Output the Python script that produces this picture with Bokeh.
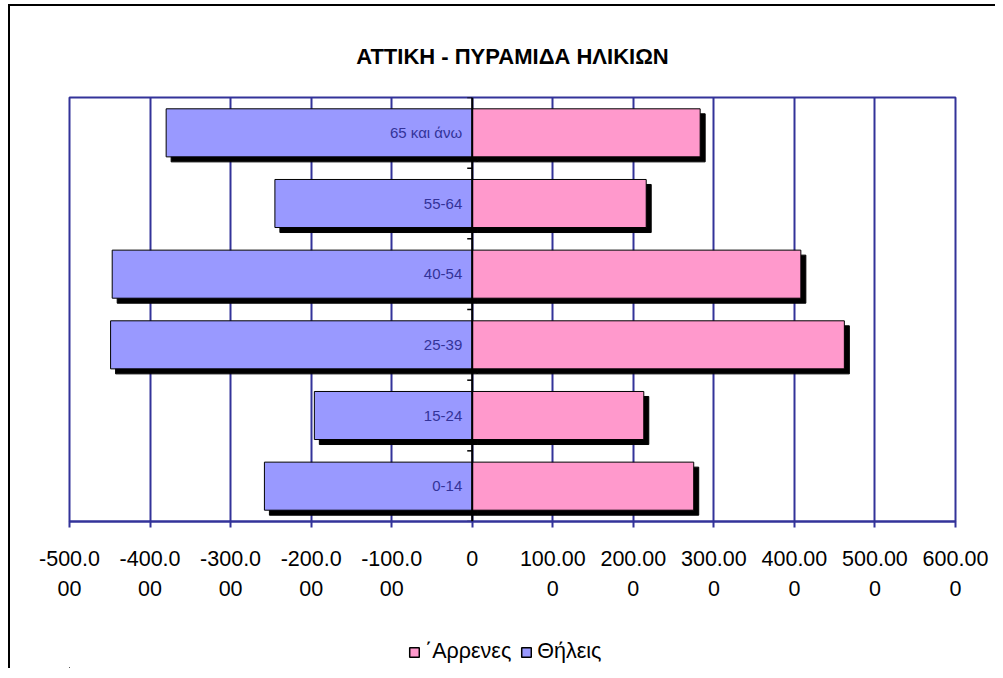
from bokeh.plotting import figure
from bokeh.layouts import column
from bokeh.models import Range1d, FixedTicker, Legend, LegendItem, ColumnDataSource, Span
from bokeh.core.properties import value
from bokeh.embed import file_html
from bokeh.resources import INLINE

# ---- data ----
categories = ["0-14", "15-24", "25-39", "40-54", "55-64", "65 και άνω"]
male = [275, 213, 462, 408, 216, 283]          # Άρρενες
female = [-258, -196, -449, -447, -245, -380]  # Θήλεις
tick_values = [-500, -400, -300, -200, -100, 0, 100, 200, 300, 400, 500, 600]
tick_labels = ["-500.0\n00", "-400.0\n00", "-300.0\n00", "-200.0\n00", "-100.0\n00", "0",
               "100.00\n0", "200.00\n0", "300.00\n0", "400.00\n0", "500.00\n0", "600.00\n0"]
title_text = "ΑΤΤΙΚΗ - ΠΥΡΑΜΙΔΑ ΗΛΙΚΙΩΝ"
male_label = "\u0384Αρρενες"
female_label = "Θήλεις"

# ---- layout ----
W, H1, H2 = 995, 634, 34
BL, BR, BT, BB = 69, 40, 97, 113
xmin, xmax = -500, 600
ymin, ymax = 0, len(categories)
frame_w = W - BL - BR
frame_h = H1 - BT - BB
px_x = frame_w / (xmax - xmin)
px_y = frame_h / (ymax - ymin)
shadow_px = 5
dx = shadow_px / px_x
dy = shadow_px / px_y
tick_len = 5 / px_x

NAVY = "#333399"
FONT = "Liberation Sans"
BLUE = "#9999FF"
PINK = "#FF99CC"

n = len(categories)
ypos = [i + 0.5 for i in range(n)]
bar_h = 0.68
bounds = list(range(n + 1))

src = ColumnDataSource(dict(
    y=ypos, cat=categories, male=male, female=female,
    zero=[0] * n,
    ys=[v - dy for v in ypos],
    m_l=[dx] * n, m_r=[m + dx for m in male],
    f_l=[f + dx for f in female], f_r=[dx] * n,
))
tsrc = ColumnDataSource(dict(y=bounds, x0=[0] * len(bounds), x1=[-tick_len] * len(bounds)))

p = figure(width=W, height=H1, output_backend="svg", toolbar_location=None,
           x_range=Range1d(xmin, xmax), y_range=Range1d(ymin, ymax),
           min_border_left=BL, min_border_right=BR, min_border_top=BT, min_border_bottom=BB,
           title=title_text)
p.border_fill_color = None
p.styles = {"background": "linear-gradient(#000,#000) 8px 4px / 2px calc(100% - 4px) no-repeat, "
                          "linear-gradient(#000,#000) 8px 4px / calc(100% - 8px) 2px no-repeat, #fff"}

p.title.align = "center"
p.title.text_font = FONT
p.title.text_font_size = "22px"
p.title.text_font_style = "bold"
p.title.text_color = "black"
p.title.standoff = 58

p.outline_line_color = NAVY
p.outline_line_width = 2
p.background_fill_color = "white"

# grid
p.xgrid.ticker = FixedTicker(ticks=tick_values)
p.xgrid.grid_line_color = NAVY
p.xgrid.grid_line_width = 2
p.ygrid.grid_line_color = None

# x axis
p.xaxis.ticker = FixedTicker(ticks=tick_values)
p.xaxis.major_label_overrides = {v: l for v, l in zip(tick_values, tick_labels)}
p.xaxis.axis_line_color = NAVY
p.xaxis.axis_line_width = 2
p.xaxis.major_tick_line_color = NAVY
p.xaxis.major_tick_line_width = 2
p.xaxis.major_tick_out = 6
p.xaxis.major_tick_in = 0
p.xaxis.minor_tick_line_color = None
p.xaxis.major_label_standoff = 19
p.xaxis.major_label_text_font = FONT
p.xaxis.major_label_text_font_size = "21.5px"
p.xaxis.major_label_text_color = "black"
p.xaxis.major_label_text_line_height = 1.25

p.yaxis.visible = False

# shadows
p.hbar(y="ys", left="f_l", right="f_r", height=bar_h, source=src,
       fill_color="black", line_color="black")
p.hbar(y="ys", left="m_l", right="m_r", height=bar_h, source=src,
       fill_color="black", line_color="black")

# bars
p.hbar(y="y", left="female", right="zero", height=bar_h, source=src,
       fill_color=BLUE, line_color="black", line_width=1)
p.hbar(y="y", left="zero", right="male", height=bar_h, source=src,
       fill_color=PINK, line_color="black", line_width=1)

# central axis with small ticks at category boundaries
p.add_layout(Span(location=0, dimension="height", line_color="black", line_width=2))
p.segment(x0="x0", y0="y", x1="x1", y1="y", source=tsrc, line_color="black", line_width=1.5)

# category labels
p.text(x="zero", y="y", text="cat", source=src, x_offset=-10,
       text_align="right", text_baseline="middle",
       text_font=value(FONT), text_font_size="15px", text_color=NAVY)

# ---- legend strip (separate canvas below the chart) ----
lg = figure(width=W, height=H2, output_backend="svg", toolbar_location=None,
            x_range=Range1d(xmax * 10, xmax * 10 + 1), y_range=Range1d(ymax * 10, ymax * 10 + 1),
            x_axis_location=None, y_axis_location=None,
            min_border_left=0, min_border_right=0, min_border_top=0, min_border_bottom=0)
lg.grid.visible = False
lg.outline_line_color = None
lg.border_fill_color = None
lg.background_fill_color = None
lg.styles = {"background": "linear-gradient(#000,#000) 8px 0 / 2px 100% no-repeat, #fff"}
lm = lg.hbar(y="y", left="zero", right="male", height=bar_h, source=src,
             fill_color=PINK, line_color="black", line_width=1.5)
lf = lg.hbar(y="y", left="female", right="zero", height=bar_h, source=src,
             fill_color=BLUE, line_color="black", line_width=1.5)
legend = Legend(items=[LegendItem(label=male_label, renderers=[lm]),
                       LegendItem(label=female_label, renderers=[lf])],
                location=(339, 4), orientation="horizontal")
legend.spacing = 9
legend.label_standoff = 5
legend.glyph_width = 12
legend.glyph_height = 12
legend.label_text_font = FONT
legend.label_text_font_size = "21.5px"
legend.label_text_color = "black"
legend.border_line_alpha = 0
legend.background_fill_alpha = 0
legend.padding = 0
legend.margin = 0
lg.add_layout(legend, "center")

layout = column(p, lg, spacing=0)
open("out.html", "w").write(file_html(layout, INLINE))
